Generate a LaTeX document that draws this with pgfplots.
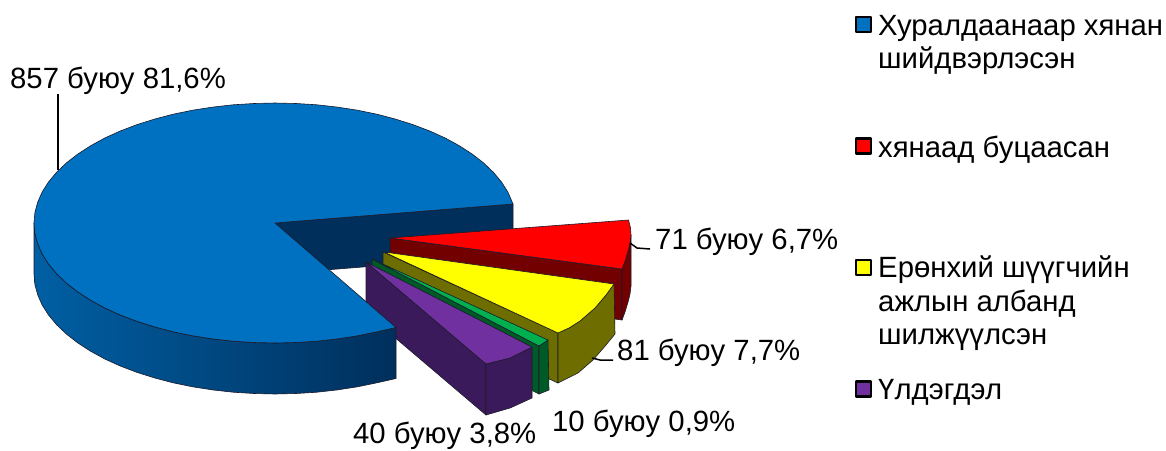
\documentclass[border=0pt]{standalone}
\usepackage{fontspec}
\setmainfont{Liberation Sans}
\usepackage{pgfplots}
\pgfplotsset{compat=1.18}
\definecolor{pieBlue}{HTML}{0070C0}
\definecolor{pieBlueWall}{HTML}{002F5C}
\definecolor{pieRed}{HTML}{FF0000}
\definecolor{pieRedWall}{HTML}{730000}
\definecolor{pieYellow}{HTML}{FFFF00}
\definecolor{pieYellowWall}{HTML}{6E6E00}
\definecolor{pieGreen}{HTML}{00B050}
\definecolor{pieGreenWall}{HTML}{005A28}
\definecolor{piePurple}{HTML}{7030A0}
\definecolor{piePurpleWall}{HTML}{3B1A5C}
\definecolor{edge}{HTML}{1A1A2A}
\begin{document}
\begin{tikzpicture}
\path[use as bounding box] (0,0) rectangle (1166pt,450pt);
\begin{axis}[
  anchor=south west, at={(0,0)},
  scale only axis, width=1166pt, height=450pt,
  xmin=0, xmax=1166, ymin=0, ymax=450,
  y dir=reverse, hide axis, clip=false,
  every axis plot/.append style={draw=edge, line width=0.6pt, line join=round, mark=none},
  nodes={font=\fontsize{29.3}{33}\selectfont, inner sep=0pt, anchor=base west, text=black},
]
% inner wall of the large slice
\addplot[fill=pieBlueWall] coordinates {(275,223) (513,204) (513,255) (275,274)} --cycle;

% red slice
\addplot[fill=pieRedWall] coordinates {(390,238) (622,269) (622,320) (390,289)} --cycle;
\addplot[fill=pieRedWall] coordinates {(622,269) (625,261) (628,251) (630,243) (631,235) (631,286) (630,294) (628,302) (625,312) (622,320)} --cycle;
\addplot[fill=pieRed] coordinates {(390,238) (628.5,220) (630.5,228) (631,235) (630,243) (628,251) (625,261) (622,269)} --cycle;

% yellow slice
\addplot[fill=pieYellowWall] coordinates {(383,252) (558,333) (558,383) (383,303)} --cycle;
\addplot[fill=pieYellowWall] coordinates {(558,333) (569,328) (580,321) (595,308) (606,295) (614,284) (615,334) (606,345) (593,360) (578,373) (558,383)} --cycle;
\addplot[fill=pieYellow] coordinates {(384,252) (614,284) (606,295) (595,308) (580,321) (569,328) (558,333)} --cycle;

% green slice
\addplot[fill=pieGreenWall] coordinates {(372,259) (539,346) (539,394) (372,310)} --cycle;
\addplot[fill=pieGreenWall] coordinates {(539,346) (548,340) (549,390) (539,394)} --cycle;
\addplot[fill=pieGreen] coordinates {(372,259) (548,340) (539,346)} --cycle;

% purple slice
\addplot[fill=piePurpleWall] coordinates {(366,262) (486,364) (486,415) (366,313)} --cycle;
\addplot[fill=piePurpleWall] coordinates {(486,364) (510,358) (532,347) (532,398) (510,408) (486,415)} --cycle;
\addplot[fill=piePurple] coordinates {(366,262) (532,347) (510,358) (486,364)} --cycle;

% outer wall of the large slice
\addplot[left color=pieBlue!85!black, middle color=pieBlue!62!black, right color=pieBlueWall] coordinates {
  (34,223) (34.9,233.5) (37.7,243.8) (42.2,254.1) (48.5,264) (56.6,273.7) (66.3,283) (77.6,291.8)
  (90.4,300.1) (104.6,307.9) (120,314.9) (136.8,321.3) (154.5,326.9) (173.1,331.8) (192.6,335.8)
  (212.6,338.9) (233.1,341.2) (254,342.5) (275,343) (296,342.5) (316.9,341.2) (337.4,338.9)
  (357.4,335.8) (376.9,331.8) (396,327.5)
  (396,378.5) (376.9,382.8) (357.4,386.8) (337.4,389.9) (316.9,392.2) (296,393.5) (275,394)
  (254,393.5) (233.1,392.2) (212.6,389.9) (192.6,386.8) (173.1,382.8) (154.5,377.9) (136.8,372.3)
  (120,365.9) (104.6,358.9) (90.4,351.1) (77.6,342.8) (66.3,334) (56.6,324.7) (48.5,315) (42.2,305.1)
  (37.7,294.8) (34.9,284.5) (34,274)
} --cycle;

% top of the large slice
\addplot[fill=pieBlue] coordinates {
  (275,223) (513,204) (507.8,191.9) (501.5,182) (493.4,172.3) (483.7,163) (472.4,154.2) (459.6,145.9)
  (445.4,138.1) (430,131.1) (413.2,124.7) (395.5,119.1) (376.9,114.2) (357.4,110.2) (337.4,107.1)
  (316.9,104.8) (296,103.5) (275,103) (254,103.5) (233.1,104.8) (212.6,107.1) (192.6,110.2) (173.1,114.2)
  (154.5,119.1) (136.8,124.7) (120,131.1) (104.6,138.1) (90.4,145.9) (77.6,154.2) (66.3,163) (56.6,172.3)
  (48.5,182) (42.2,191.9) (37.7,202.2) (34.9,212.5) (34,223) (34.9,233.5) (37.7,243.8) (42.2,254.1)
  (48.5,264) (56.6,273.7) (66.3,283) (77.6,291.8) (90.4,300.1) (104.6,307.9) (120,314.9) (136.8,321.3)
  (154.5,326.9) (173.1,331.8) (192.6,335.8) (212.6,338.9) (233.1,341.2) (254,342.5) (275,343) (296,342.5)
  (316.9,341.2) (337.4,338.9) (357.4,335.8) (376.9,331.8) (396,327.5)
} --cycle;

% leader lines
\addplot[draw=black, line width=1.5pt] coordinates {(58,94) (58,170)};
\addplot[draw=black, line width=1.5pt] coordinates {(630,243) (637,248) (650,249)};
\addplot[draw=black, line width=1.5pt] coordinates {(592,358) (600,360) (613,360)};

% legend keys
\addplot[only marks, mark=square*, mark size=7.5pt, mark options={draw=black, fill=pieBlue, line width=2.2pt, line join=round}] coordinates {(863.5,24.5)};
\addplot[only marks, mark=square*, mark size=7.5pt, mark options={draw=black, fill=pieRed, line width=2.2pt, line join=round}] coordinates {(863.5,146)};
\addplot[only marks, mark=square*, mark size=7.5pt, mark options={draw=black, fill=pieYellow, line width=2.2pt, line join=round}] coordinates {(863.5,267.5)};
\addplot[only marks, mark=square*, mark size=7.5pt, mark options={draw=black, fill=piePurple, line width=2.2pt, line join=round}] coordinates {(863.5,389)};

% data labels
\node at (axis cs:10,88) {857 буюу 81,6\%};
\node at (axis cs:655,249) {71 буюу 6,7\%};
\node at (axis cs:617,360) {81 буюу 7,7\%};
\node at (axis cs:552,431) {10 буюу 0,9\%};
\node at (axis cs:353,443.5) {40 буюу 3,8\%};

% legend text
\node at (axis cs:878,35) {Хуралдаанаар хянан};
\node at (axis cs:878,68) {шийдвэрлэсэн};
\node at (axis cs:878,157) {хянаад буцаасан};
\node at (axis cs:878,277) {Ерөнхий шүүгчийн};
\node at (axis cs:878,311) {ажлын албанд};
\node at (axis cs:878,344) {шилжүүлсэн};
\node at (axis cs:878,399) {Үлдэгдэл};
\end{axis}
\end{tikzpicture}
\end{document}
